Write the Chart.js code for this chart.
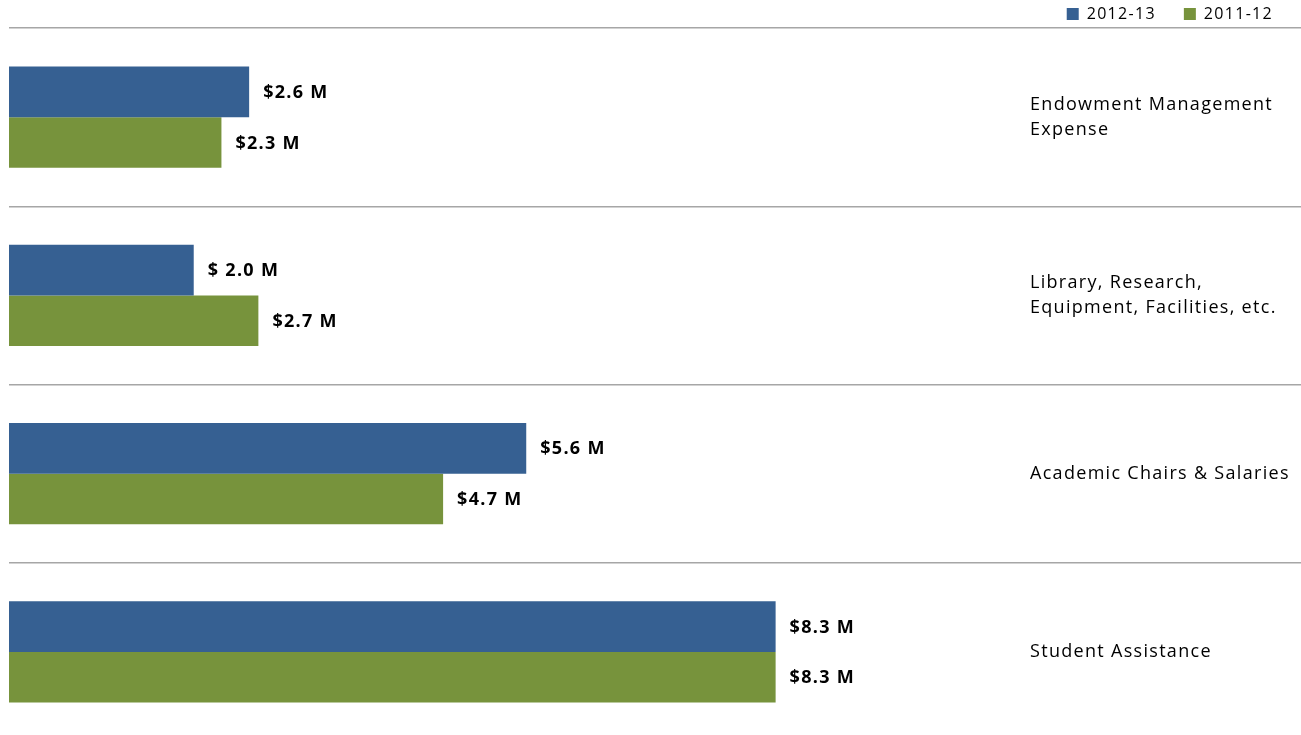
<!DOCTYPE html>
<html>
<head>
<meta charset="utf-8">
<script src="https://cdn.jsdelivr.net/npm/chart.js@4"></script>
<style>
  html, body { margin: 0; padding: 0; background: #fff; overflow: hidden; }
  #wrap { position: relative; width: 1301px; height: 741px; }
</style>
</head>
<body>
<div id="wrap"><canvas id="ChartSpending_Canvasobj"></canvas></div>
<script>
var categories = [
  ['Endowment Management', 'Expense'],
  ['Library, Research,', 'Equipment, Facilities, etc.'],
  'Academic Chairs & Salaries',
  'Student Assistance'
];
var values2012 = [2.6, 2.0, 5.6, 8.3];
var values2011 = [2.3, 2.7, 4.7, 8.3];
var labels2012 = ['$2.6 M', '$ 2.0 M', '$5.6 M', '$8.3 M'];
var labels2011 = ['$2.3 M', '$2.7 M', '$4.7 M', '$8.3 M'];

// the original's text is set wide, so space the letters out a bit
const wideText = {
  id: 'wideText',
  beforeUpdate(chart) {
    chart.ctx.letterSpacing = '1.3px';
  },
  beforeDraw(chart) {
    chart.ctx.letterSpacing = '1.3px';
  }
};

const valueLabels = {
  id: 'valueLabels',
  afterDatasetsDraw(chart) {
    const ctx = chart.ctx;
    const texts = [labels2012, labels2011];
    ctx.save();
    ctx.font = 'bold 18px "Open Sans"';
    ctx.fillStyle = '#000';
    ctx.textAlign = 'left';
    ctx.textBaseline = 'middle';
    chart.data.datasets.forEach(function (ds, i) {
      chart.getDatasetMeta(i).data.forEach(function (bar, j) {
        ctx.fillText(texts[i][j], bar.x + 14, bar.y + 1);
      });
    });
    ctx.restore();
  }
};

const config_spending = {
  type: 'bar',
  data: {
    labels: categories,
    datasets: [
      {
        label: '2012-13',
        backgroundColor: '#366092',
        data: values2012
      },
      {
        label: '2011-12',
        backgroundColor: '#77933c',
        data: values2011
      }
    ]
  },
  options: {
    indexAxis: 'y',
    responsive: true,
    maintainAspectRatio: false,
    animation: false,
    datasets: {
      bar: { categoryPercentage: 0.567, barPercentage: 1.0 }
    },
    layout: { padding: { left: 9, right: 0, top: -22, bottom: 0 } },
    plugins: {
      tooltip: { enabled: false },
      legend: {
        position: 'top',
        align: 'end',
        maxHeight: 50,
        labels: {
          boxWidth: 12,
          boxHeight: 12,
          padding: 28,
          color: '#000',
          font: { family: '"Open Sans"', size: 16 }
        }
      }
    },
    scales: {
      x: {
        display: false,
        min: 0,
        max: 11
      },
      y: {
        position: 'right',
        border: { display: false },
        grid: {
          color: '#a6a6a6',
          lineWidth: 1.5,
          drawTicks: true,
          tickLength: 300
        },
        ticks: {
          padding: -295,
          color: '#000',
          font: { family: '"Open Sans"', size: 18, lineHeight: 1.4 }
        },
        afterFit: function (scale) {
          scale.width = 276;
        }
      }
    }
  },
  plugins: [wideText, valueLabels]
};

const ChartSpending = new Chart(
  document.getElementById('ChartSpending_Canvasobj'),
  config_spending
);
</script>
</body>
</html>
